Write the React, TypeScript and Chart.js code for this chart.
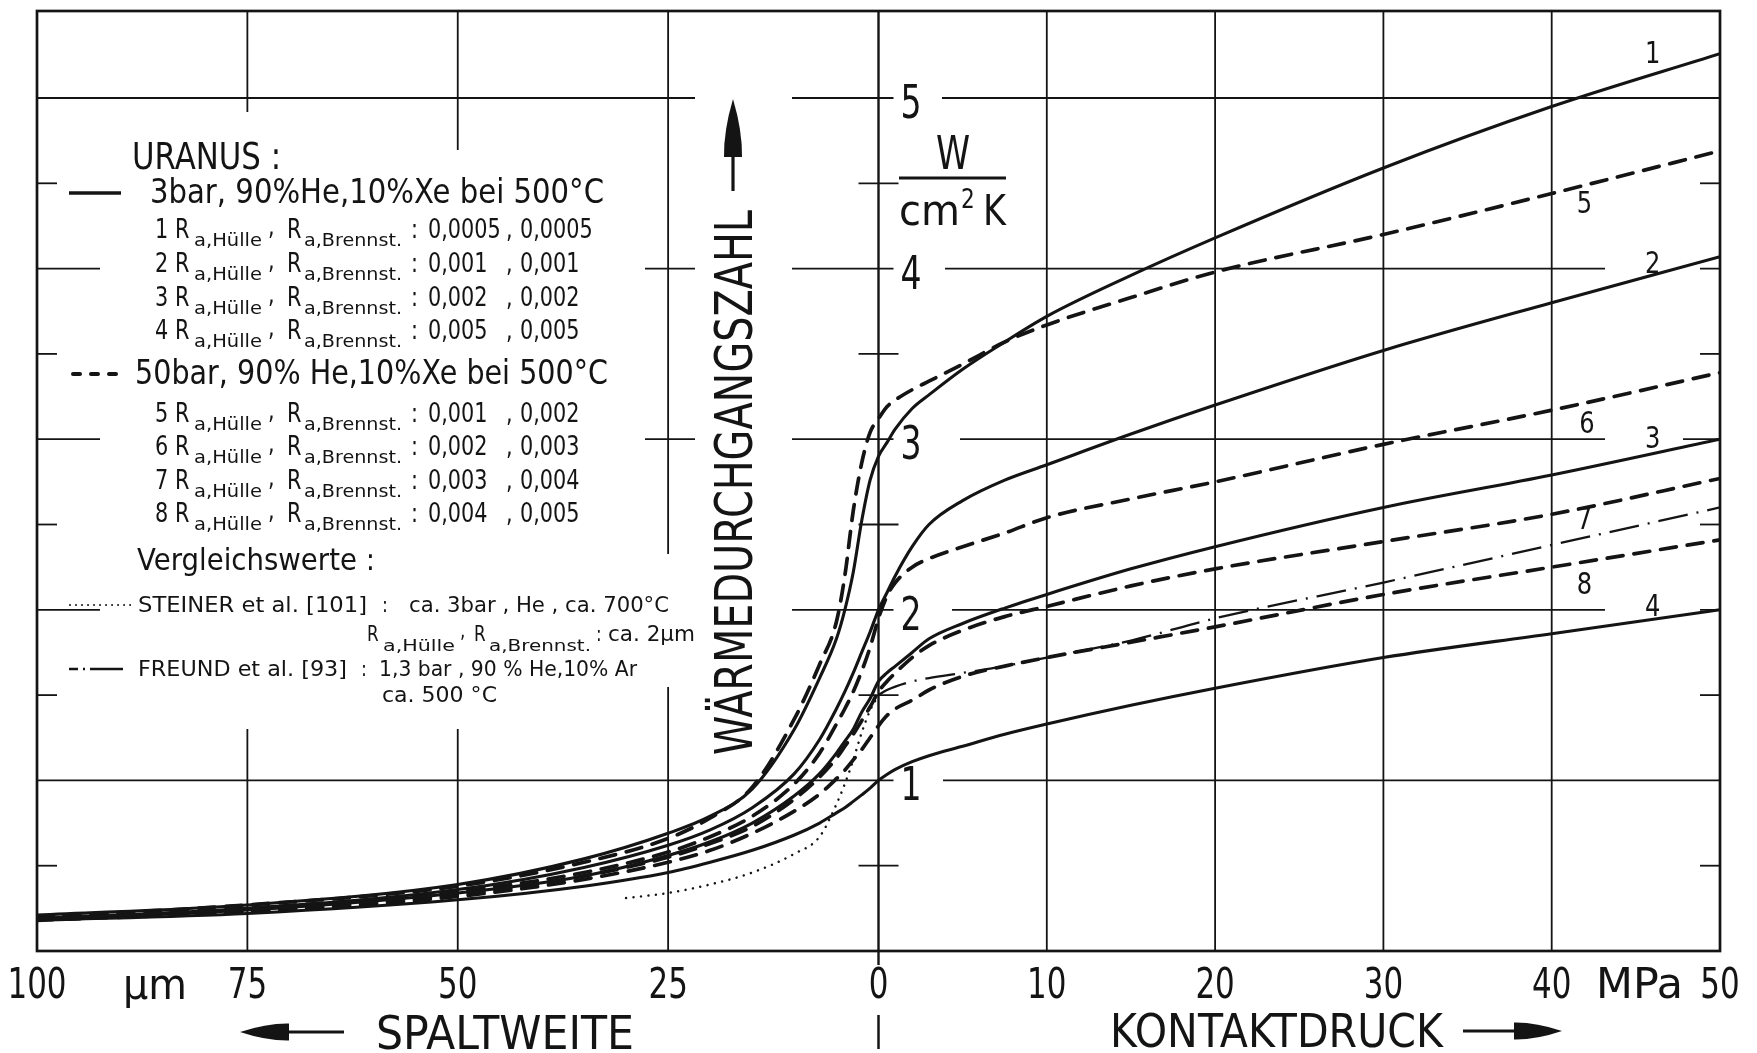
import { useEffect, useRef } from "react";
import { Chart, registerables } from "chart.js";

Chart.register(...registerables);

// ---------------- data ----------------
// gap side (Spaltweite, µm) and contact side (Kontaktdruck, MPa)
const gapUm = [100, 75, 50, 35, 25, 20, 15, 10, 7, 5, 4, 3, 2, 1];
const pressMPa = [0, 0.5, 1, 2, 3, 5, 7.5, 10, 15, 20, 30, 40, 50];

// 3 bar curves (solid)
const curve1Gap = [0.21, 0.27, 0.39, 0.54, 0.69, 0.79, 0.95, 1.3, 1.6, 1.83, 2.0, 2.22, 2.52, 2.76];
const curve1Press = [2.9, 2.98, 3.06, 3.18, 3.26, 3.41, 3.57, 3.72, 3.96, 4.18, 4.59, 4.95, 5.26];
const curve2Gap = [0.19, 0.25, 0.36, 0.49, 0.62, 0.71, 0.84, 1.04, 1.24, 1.42, 1.52, 1.63, 1.75, 1.87];
const curve2Press = [2.0, 2.1, 2.2, 2.37, 2.5, 2.64, 2.76, 2.85, 3.03, 3.2, 3.52, 3.8, 4.07];
const curve3Gap = [0.19, 0.24, 0.34, 0.44, 0.56, 0.64, 0.75, 0.91, 1.04, 1.16, 1.23, 1.3, 1.4, 1.48];
const curve3Press = [1.58, 1.63, 1.67, 1.75, 1.83, 1.92, 2.01, 2.09, 2.24, 2.37, 2.6, 2.79, 3.0];
const curve4Gap = [0.18, 0.22, 0.3, 0.38, 0.46, 0.52, 0.59, 0.68, 0.75, 0.81, 0.84, 0.877, 0.915, 0.955];
const curve4Press = [1.0, 1.035, 1.065, 1.11, 1.145, 1.2, 1.27, 1.33, 1.44, 1.54, 1.72, 1.86, 2.0];

// 50 bar curves (dashed)
const curve5Gap = [0.2, 0.27, 0.38, 0.52, 0.66, 0.78, 0.96, 1.36, 1.68, 1.93, 2.2, 2.58, 2.86, 3.04];
const curve5Press = [3.12, 3.19, 3.23, 3.29, 3.34, 3.44, 3.57, 3.67, 3.83, 3.98, 4.2, 4.44, 4.69];
const curve6Gap = [0.19, 0.25, 0.35, 0.46, 0.58, 0.67, 0.79, 0.98, 1.16, 1.33, 1.42, 1.52, 1.64, 1.78];
const curve6Press = [1.95, 2.08, 2.16, 2.25, 2.3, 2.37, 2.45, 2.54, 2.65, 2.75, 2.97, 3.17, 3.39];
const curve7Gap = [0.19, 0.24, 0.33, 0.44, 0.55, 0.63, 0.73, 0.89, 1.02, 1.13, 1.2, 1.27, 1.35, 1.43];
const curve7Press = [1.52, 1.58, 1.63, 1.72, 1.79, 1.88, 1.96, 2.02, 2.14, 2.24, 2.4, 2.56, 2.77];
const curve8Gap = [0.18, 0.23, 0.32, 0.42, 0.52, 0.59, 0.69, 0.82, 0.92, 1.01, 1.06, 1.12, 1.18, 1.25];
const curve8Press = [1.32, 1.38, 1.42, 1.47, 1.53, 1.61, 1.67, 1.72, 1.81, 1.9, 2.09, 2.25, 2.41];

// comparison values
const steinerGapUm = [30, 25, 20, 15, 10, 7, 5, 4, 3, 2, 1, 0];
const steinerValues = [0.31, 0.34, 0.39, 0.46, 0.57, 0.67, 0.86, 0.98, 1.12, 1.28, 1.41, 1.5];
const freundPress = [1.5, 1.53, 1.55, 1.58, 1.6, 1.63, 1.67, 1.72, 1.82, 1.95, 2.16, 2.38, 2.6];

// axes
const gapTicksUm = [100, 75, 50, 25];
const pressTicksMPa = [0, 10, 20, 30, 40, 50];
const gapGridUm = [75, 50, 25];
const pressGridMPa = [10, 20, 30, 40];
const yTickValues = [1, 2, 3, 4, 5];
const yHalfTicks = [0.5, 1.5, 2.5, 3.5, 4.5];

// legend texts
const uranusRows = [
  ["1", "0,0005", "0,0005"],
  ["2", "0,001", "0,001"],
  ["3", "0,002", "0,002"],
  ["4", "0,005", "0,005"],
];
const bar50Rows = [
  ["5", "0,001", "0,002"],
  ["6", "0,002", "0,003"],
  ["7", "0,003", "0,004"],
  ["8", "0,004", "0,005"],
];
const curveLabels = [
  { t: "1", u: 46.0, v: 5.27 },
  { t: "5", u: 41.95, v: 4.39 },
  { t: "2", u: 46.0, v: 4.04 },
  { t: "6", u: 42.1, v: 3.1 },
  { t: "3", u: 46.0, v: 3.01 },
  { t: "7", u: 41.95, v: 2.54 },
  { t: "8", u: 41.95, v: 2.16 },
  { t: "4", u: 46.0, v: 2.03 },
];

// ---------------- helpers ----------------
const INK = "#141414";
const FONT = '"DejaVu Sans", "Liberation Sans", sans-serif';
const gapToU = (g: number) => -g / 2; // 100 µm occupy the same width as 50 MPa

function series(gapVals: number[], pressVals: number[]) {
  return [
    ...gapUm.map((g, i) => ({ x: gapToU(g), y: gapVals[i] })),
    ...pressMPa.map((p, i) => ({ x: p, y: pressVals[i] })),
  ];
}

type TxtOpt = { align?: "left" | "center" | "right"; w?: number; sx?: number };
function txt(ctx: CanvasRenderingContext2D, s: string, x: number, y: number, size: number, o: TxtOpt = {}) {
  ctx.save();
  ctx.font = `${size}px ${FONT}`;
  ctx.fillStyle = INK;
  ctx.textBaseline = "alphabetic";
  ctx.textAlign = "left";
  const m = ctx.measureText(s).width;
  const k = o.w ? o.w / m : o.sx ?? 0.8;
  const drawn = m * k;
  let left = x;
  if (o.align === "center") left = x - drawn / 2;
  else if (o.align === "right") left = x - drawn;
  ctx.translate(left, y);
  ctx.scale(k, 1);
  ctx.fillText(s, 0, 0);
  ctx.restore();
  return drawn;
}

function seg(ctx: CanvasRenderingContext2D, x1: number, y1: number, x2: number, y2: number) {
  ctx.beginPath();
  ctx.moveTo(x1, y1);
  ctx.lineTo(x2, y2);
  ctx.stroke();
}

function arrowHead(ctx: CanvasRenderingContext2D, tx: number, ty: number, bx: number, by: number, hw: number) {
  const dx = bx - tx, dy = by - ty;
  const len = Math.hypot(dx, dy);
  const nx = -dy / len, ny = dx / len;
  const mx = tx + dx * 0.55, my = ty + dy * 0.55;
  ctx.beginPath();
  ctx.moveTo(tx, ty);
  ctx.quadraticCurveTo(mx + nx * hw * 1.05, my + ny * hw * 1.05, bx + nx * hw, by + ny * hw);
  ctx.lineTo(bx - nx * hw, by - ny * hw);
  ctx.quadraticCurveTo(mx - nx * hw * 1.05, my - ny * hw * 1.05, tx, ty);
  ctx.closePath();
  ctx.fill();
}

function legendRow(ctx: CanvasRenderingContext2D, num: string, v1: string, v2: string, yb: number) {
  txt(ctx, num, 155, yb, 26);
  txt(ctx, "R", 175, yb, 26);
  txt(ctx, "a,Hülle", 194, yb + 8, 17, { w: 68 });
  txt(ctx, ",", 268, yb - 3, 26);
  txt(ctx, "R", 287, yb, 26);
  txt(ctx, "a,Brennst.", 304, yb + 8, 17, { w: 98 });
  txt(ctx, ":", 411, yb, 26);
  txt(ctx, v1, 428, yb, 26);
  txt(ctx, ",", 506, yb, 26);
  txt(ctx, v2, 520, yb, 26);
}

const diagramPlugin = {
  id: "diagram",
  beforeDatasetsDraw(chart: any) {
    const { ctx, chartArea: a, scales } = chart;
    const X = (u: number) => scales.x.getPixelForValue(u);
    const Y = (v: number) => scales.y.getPixelForValue(v);
    const x0 = X(0);
    ctx.save();
    ctx.fillStyle = "#fff";
    ctx.fillRect(0, 0, chart.width, chart.height);
    ctx.strokeStyle = INK;
    ctx.lineWidth = 1.8;
    gapGridUm.forEach((g) => seg(ctx, X(gapToU(g)), a.top, X(gapToU(g)), a.bottom));
    pressGridMPa.forEach((p) => seg(ctx, X(p), a.top, X(p), a.bottom));
    yTickValues.forEach((v) => seg(ctx, a.left, Y(v), a.right, Y(v)));
    yHalfTicks.forEach((v) => {
      seg(ctx, a.left, Y(v), a.left + 20, Y(v));
      seg(ctx, x0 - 20, Y(v), x0 + 20, Y(v));
      seg(ctx, a.right - 20, Y(v), a.right, Y(v));
    });
    // white areas behind the legend block and the axis title
    ctx.fillStyle = "#fff";
    const masks = [
      [100, 112, 420, 729],
      [420, 150, 645, 729],
      [645, 554, 700, 687],
      [695, 92, 792, 775],
    ];
    masks.forEach(([l, t, r, b]) => ctx.fillRect(l, t, r - l, b - t));
    // gaps behind the y labels near the axis
    const gapEnd = [943, 952, 960, 945, 942];
    yTickValues.forEach((v, i) => ctx.fillRect(x0 + 15, Y(v) - 3, gapEnd[i] - x0 - 15, 6));
    // gaps behind curve labels on the right
    [[4, 1605, 1700], [3, 1605, 1683], [2, 1605, 1700]].forEach(([v, l, r]) => ctx.fillRect(l, Y(v) - 3, r - l, 6));
    // axis and frame
    ctx.lineWidth = 2.4;
    seg(ctx, x0, a.top, x0, a.bottom + 14);
    ctx.lineWidth = 2.7;
    ctx.strokeRect(a.left, a.top, a.right - a.left, a.bottom - a.top);
    ctx.restore();
  },
  afterDatasetsDraw(chart: any) {
    const { ctx, scales } = chart;
    const X = (u: number) => scales.x.getPixelForValue(u);
    const Y = (v: number) => scales.y.getPixelForValue(v);
    const x0 = X(0);
    ctx.save();
    ctx.fillStyle = INK;
    ctx.strokeStyle = INK;

    // y tick labels (right of the axis)
    yTickValues.forEach((v) => txt(ctx, String(v), x0 + 22, Y(v) + 4 + 16, 46, { sx: 0.72 }));
    // unit W / cm²K
    txt(ctx, "W", 953, 169, 46, { align: "center", sx: 0.75 });
    ctx.lineWidth = 3;
    seg(ctx, 899, 178, 1006, 178);
    txt(ctx, "cm", 899, 225, 43, { w: 61 });
    txt(ctx, "2", 961, 208, 27, { sx: 0.8 });
    txt(ctx, "K", 983, 225, 43, { w: 23 });

    // x tick labels
    gapTicksUm.forEach((g) => txt(ctx, String(g), X(gapToU(g)), 998, 43, { align: "center", sx: 0.72 }));
    pressTicksMPa.forEach((p) => txt(ctx, String(p), X(p), 998, 43, { align: "center", sx: 0.72 }));
    txt(ctx, "µm", 123, 999, 43, { w: 64 });
    txt(ctx, "MPa", 1596, 998, 43, { w: 87 });

    // axis titles at the bottom
    ctx.lineWidth = 3;
    arrowHead(ctx, 240, 1032, 289, 1032, 8.5);
    seg(ctx, 287, 1032, 344, 1032);
    txt(ctx, "SPALTWEITE", 376, 1049, 47, { w: 258 });
    ctx.lineWidth = 2.5;
    seg(ctx, x0, 1015, x0, 1049);
    txt(ctx, "KONTAKTDRUCK", 1110, 1047, 47, { w: 333 });
    ctx.lineWidth = 3;
    seg(ctx, 1463, 1031, 1517, 1031);
    arrowHead(ctx, 1562, 1031, 1514, 1031, 8.5);

    // rotated y title with arrow
    ctx.save();
    ctx.translate(752, 755);
    ctx.rotate(-Math.PI / 2);
    txt(ctx, "WÄRMEDURCHGANGSZAHL", 0, 0, 51, { w: 545 });
    ctx.restore();
    ctx.lineWidth = 3.2;
    seg(ctx, 733, 150, 733, 191);
    arrowHead(ctx, 733, 99, 733, 157, 9);

    // curve labels
    curveLabels.forEach((c) => txt(ctx, c.t, X(c.u), Y(c.v) + 11, 31, { align: "center", sx: 0.78 }));

    // legend
    txt(ctx, "URANUS :", 132, 169, 38, { w: 149 });
    ctx.lineWidth = 3.6;
    ctx.setLineDash([]);
    seg(ctx, 69, 193, 121, 193);
    txt(ctx, "3bar, 90%He,10%Xe bei 500°C", 150, 203, 33, { w: 454 });
    const rowsY1 = [238, 272, 306, 339];
    uranusRows.forEach((r, i) => legendRow(ctx, r[0], r[1], r[2], rowsY1[i]));

    ctx.lineWidth = 4;
    ctx.lineCap = "round";
    ctx.setLineDash([7, 11]);
    seg(ctx, 73, 374, 118, 374);
    ctx.setLineDash([]);
    ctx.lineCap = "butt";
    txt(ctx, "50bar, 90% He,10%Xe bei 500°C", 135, 384, 33, { w: 473 });
    const rowsY2 = [422, 455, 489, 522];
    bar50Rows.forEach((r, i) => legendRow(ctx, r[0], r[1], r[2], rowsY2[i]));

    txt(ctx, "Vergleichswerte :", 137, 570, 31, { w: 238 });

    ctx.lineWidth = 2;
    ctx.lineCap = "round";
    ctx.setLineDash([0.01, 6]);
    seg(ctx, 70, 605, 132, 605);
    ctx.setLineDash([]);
    ctx.lineCap = "butt";
    txt(ctx, "STEINER et al. [101]", 138, 612, 22, { w: 229 });
    txt(ctx, ":", 382, 612, 22);
    txt(ctx, "ca. 3bar , He , ca. 700°C", 409, 612, 22, { w: 260 });
    txt(ctx, "R", 367, 641, 21);
    txt(ctx, "a,Hülle", 383, 651, 15, { w: 72 });
    txt(ctx, ",", 460, 638, 21);
    txt(ctx, "R", 474, 641, 21);
    txt(ctx, "a,Brennst.", 489, 651, 15, { w: 102 });
    txt(ctx, ":", 596, 641, 21);
    txt(ctx, "ca. 2µm", 608, 641, 22, { w: 87 });

    ctx.lineWidth = 2.6;
    ctx.setLineDash([9, 5, 2, 5, 30, 0]);
    seg(ctx, 69, 669, 123, 669);
    ctx.setLineDash([]);
    txt(ctx, "FREUND et al. [93]", 138, 676, 22, { w: 209 });
    txt(ctx, ":", 361, 676, 22);
    txt(ctx, "1,3 bar , 90 % He,10% Ar", 379, 676, 22, { w: 258 });
    txt(ctx, "ca. 500 °C", 382, 702, 22, { w: 115 });

    ctx.restore();
  },
};

const solid = { borderColor: INK, borderWidth: 3.1, pointRadius: 0, showLine: true, cubicInterpolationMode: "monotone" as const, fill: false };
const dashed = { ...solid, borderWidth: 3.7, borderDash: [16, 11], borderCapStyle: "round" as const };

export default function App() {
  const canvasRef = useRef<HTMLCanvasElement | null>(null);

  useEffect(() => {
    const canvas = canvasRef.current;
    if (!canvas) return;
    const chart = new Chart(canvas, {
      type: "scatter",
      data: {
        datasets: [
          { label: "1", data: series(curve1Gap, curve1Press), ...solid },
          { label: "2", data: series(curve2Gap, curve2Press), ...solid },
          { label: "3", data: series(curve3Gap, curve3Press), ...solid },
          { label: "4", data: series(curve4Gap, curve4Press), ...solid },
          { label: "5", data: series(curve5Gap, curve5Press), ...dashed },
          { label: "6", data: series(curve6Gap, curve6Press), ...dashed },
          { label: "7", data: series(curve7Gap, curve7Press), ...dashed },
          { label: "8", data: series(curve8Gap, curve8Press), ...dashed },
          {
            label: "STEINER",
            data: steinerGapUm.map((g, i) => ({ x: gapToU(g), y: steinerValues[i] })),
            ...solid,
            borderWidth: 2.5,
            borderDash: [0.01, 7.5],
            borderCapStyle: "round" as const,
          },
          {
            label: "FREUND",
            data: pressMPa.map((p, i) => ({ x: p, y: freundPress[i] })),
            ...solid,
            borderWidth: 2.3,
            borderDash: [30, 9, 2, 9],
          },
        ],
      },
      options: {
        responsive: false,
        animation: false,
        devicePixelRatio: 1,
        events: [],
        layout: { padding: { left: 37, right: 37, top: 11, bottom: 0 } },
        plugins: { legend: { display: false }, tooltip: { enabled: false } },
        scales: {
          x: {
            type: "linear",
            min: -50,
            max: 50,
            grid: { display: false, drawTicks: false },
            border: { display: false },
            ticks: { display: false, autoSkip: false },
            afterBuildTicks: (s: any) => {
              s.ticks = [...gapTicksUm.map((g) => ({ value: gapToU(g) })), ...pressTicksMPa.slice(1).map((p) => ({ value: p }))];
            },
            afterFit: (s: any) => {
              s.height = 102;
            },
          },
          y: { type: "linear", min: 0, max: 5.51, display: false },
        },
      },
      plugins: [diagramPlugin],
    } as any);
    return () => chart.destroy();
  }, []);

  return (
    <div style={{ position: "fixed", left: 0, top: 0, width: 1757, height: 1053, background: "#fff" }}>
      <canvas ref={canvasRef} width={1757} height={1053} style={{ display: "block", width: 1757, height: 1053 }} />
    </div>
  );
}
